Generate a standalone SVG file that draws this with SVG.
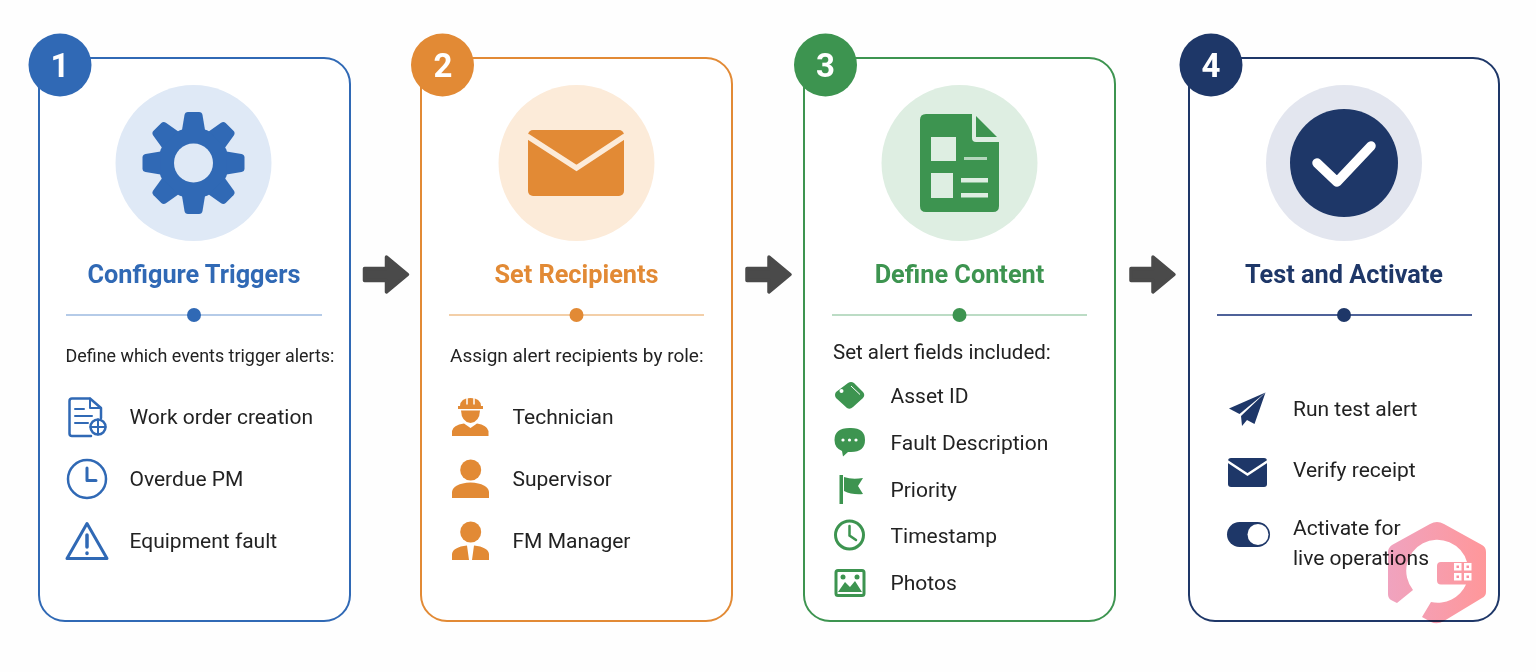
<svg xmlns="http://www.w3.org/2000/svg" width="1536" height="672" viewBox="0 0 1536 672">
<style>
text{font-family:Roboto,"Liberation Sans",sans-serif}
.card{fill:#fff;stroke-width:2}
.title{font-size:25.300px;font-weight:700;text-anchor:middle}
.intro{fill:#222}
.item{font-size:21px;fill:#222}
.num{font-size:33px;font-weight:700;fill:#fff;text-anchor:middle}
.blue{fill:#3069b5}.orange{fill:#e28a35}.green{fill:#3d9450}.navy{fill:#1e3768}
.sb{stroke:#3069b5}.so{stroke:#e28a35}.sg{stroke:#3d9450}.sn{stroke:#1e3768}
.ln{fill:none;stroke-width:3;stroke-linecap:round;stroke-linejoin:round}
.arrow{fill:#4a4a4a;stroke:#4a4a4a;stroke-width:3.500;stroke-linejoin:round}
.wm{mix-blend-mode:multiply}
</style>
<defs>
<path id="tooth" d="M-11.500 -33L-9 -48Q-8.500 -51 -5.500 -51L5.500 -51Q8.500 -51 9 -48L11.500 -33Z"/>
<path id="arr" d="M0 -6H22V-17.500L43 0L22 17.500V6H0Z"/>
<linearGradient id="wmg" x1="0" x2="1" y1="0" y2="0"><stop offset="0" stop-color="#f0a3bf"/><stop offset="1" stop-color="#ff979a"/></linearGradient>
</defs>
<rect width="1536" height="672" fill="#fefefe"/>

<g id="connectors">
<use href="#arr" class="arrow" transform="translate(364.500,274.500)"/>
<use href="#arr" class="arrow" transform="translate(747,274.500)"/>
<use href="#arr" class="arrow" transform="translate(1131,274.500)"/>
</g>

<g id="node-1">
<rect class="card sb" x="39" y="58" width="311" height="563" rx="26"/>
<circle class="blue" cx="60" cy="65" r="31.500"/>
<text class="num" x="60" y="77">1</text>
<circle cx="193.500" cy="163" r="78" fill="#dfe9f6"/>
<g class="blue" transform="translate(193.500,163)">
<circle r="35.500"/>
<use href="#tooth"/><use href="#tooth" transform="rotate(45)"/><use href="#tooth" transform="rotate(90)"/><use href="#tooth" transform="rotate(135)"/><use href="#tooth" transform="rotate(180)"/><use href="#tooth" transform="rotate(225)"/><use href="#tooth" transform="rotate(270)"/><use href="#tooth" transform="rotate(315)"/>
<circle r="19.500" fill="#dfe9f6"/>
</g>
<text class="title blue" x="194" y="283">Configure Triggers</text>
<path d="M66 315H322" stroke="#b5cbe8" stroke-width="2"/>
<circle class="blue" cx="194" cy="315" r="7"/>
<text class="intro" font-size="17.900" x="65.500" y="362">Define which events trigger alerts:</text>
<g class="ln sb">
<path stroke-width="2.500" d="M91 436H72Q69.500 436 69.500 433.500V401Q69.500 398.500 72 398.500H90L101 408V418"/>
<path stroke-width="2" d="M90 398.500V408H101M75 409H84M75 416H92M75 423H88"/>
<circle cx="98" cy="427" r="7.500" stroke-width="2.500"/>
<path stroke-width="2" d="M98 419.500V434.500M90.500 427H105.500"/>
<circle cx="87" cy="479" r="19" stroke-width="2.500"/>
<path d="M87 468V480.500H96"/>
<path d="M87 523.500L107 558.500H67Z"/>
<path stroke-width="3.500" d="M87 535V547M87 553V553.500"/>
</g>
<text class="item" x="129.500" y="424">Work order creation</text>
<text class="item" x="129.500" y="486">Overdue PM</text>
<text class="item" x="129.500" y="548">Equipment fault</text>
</g>

<g id="node-2">
<rect class="card so" x="421" y="58" width="311" height="563" rx="26"/>
<circle class="orange" cx="442.500" cy="65" r="31.500"/>
<text class="num" x="443" y="77">2</text>
<circle cx="576.500" cy="163" r="78" fill="#fcebd9"/>
<rect class="orange" x="528" y="130" width="96" height="66" rx="5"/>
<path d="M527 136L576.500 168L625 136" fill="none" stroke="#fcebd9" stroke-width="5.500"/>
<text class="title orange" x="576.500" y="283">Set Recipients</text>
<path d="M449 315H704" stroke="#f3cfa8" stroke-width="2"/>
<circle class="orange" cx="576.500" cy="315" r="7"/>
<text class="intro" font-size="19" x="450" y="362">Assign alert recipients by role:</text>
<g class="orange">
<path d="M460 406Q460.500 398 470.500 398Q480.500 398 481 406H483V409H458V406Z"/>
<path d="M461 410.500H480Q479.500 422 470.500 423Q461.500 422 461 410.500Z"/>
<path d="M452 436V431Q453 425 464 423.500L470.500 428L477 423.500Q487 425 488.500 431V436Z"/>
<circle cx="470.700" cy="470" r="10.500"/>
<path d="M452 498V492Q453 483.500 470.500 482.500Q488 483.500 489 492V498Z"/>
<circle cx="470.700" cy="532" r="10.500"/>
<path d="M452 560V554Q453 547 467 545.500L469 560H472L474 545.500Q488 547 489 554V560Z"/>
</g>
<path d="M467 398V404.500M474 398V404.500" stroke="#fff" stroke-width="1.500"/>
<text class="item" x="512.500" y="424">Technician</text>
<text class="item" x="512.500" y="486">Supervisor</text>
<text class="item" x="512.500" y="548">FM Manager</text>
</g>

<g id="node-3">
<rect class="card sg" x="804" y="58" width="311" height="563" rx="26"/>
<circle class="green" cx="825.500" cy="65" r="31.500"/>
<text class="num" x="825.500" y="77">3</text>
<circle cx="959.500" cy="163" r="78" fill="#deeee2"/>
<path class="green" d="M926 114H972V138Q972 142 976 142H999V206Q999 212 993 212H926Q920 212 920 206V120Q920 114 926 114Z"/>
<path class="green" d="M976 116L997 137H976Z"/>
<g fill="#deeee2">
<rect x="931" y="137" width="25" height="24"/>
<rect x="931" y="173" width="22" height="25"/>
<rect x="961" y="178" width="27" height="4.500"/>
<rect x="961" y="193" width="27" height="4.500"/>
<rect x="964" y="157" width="23" height="3" opacity=".75"/>
</g>
<text class="title green" x="959.500" y="283">Define Content</text>
<path d="M832 315H1087" stroke="#bcdcc5" stroke-width="2"/>
<circle class="green" cx="959.500" cy="315" r="7"/>
<text class="intro" font-size="20.500" x="833" y="359">Set alert fields included:</text>
<g class="green">
<path d="M836 392L848 383Q851 381 854 383L863 392Q865.500 395 863 398L853 407Q850 410 847 408L836 398Q834 395 836 392Z"/>
<path d="M849.500 428H851Q865 428 865 440Q865 452 851 452H848L843 456.500L842 451Q834.500 448 834.500 440Q834.500 428 849.500 428Z"/>
<rect x="839.500" y="475" width="3.500" height="29"/>
<path d="M844 477Q852 480 863 478L858 486L863 494Q852 495 844 491Z"/>
<circle cx="849.500" cy="535" r="14" fill="none" stroke="#3d9450" stroke-width="3"/>
<path d="M849.500 526V535.500L856 540" fill="none" stroke="#3d9450" stroke-width="2.500" stroke-linecap="round"/>
<rect x="836" y="570.500" width="28" height="25" rx="2" fill="none" stroke="#3d9450" stroke-width="3"/>
<circle cx="843" cy="577" r="2.500"/>
<circle cx="857" cy="577" r="2.500"/>
<path d="M838 592L845 582L850 587L855 581L862 592Z"/>
</g>
<g fill="#fff">
<circle cx="841.500" cy="391" r="2"/>
<circle cx="843" cy="440" r="1.600"/><circle cx="849.500" cy="440" r="1.600"/><circle cx="856" cy="440" r="1.600"/>
</g>
<path d="M851 386L860 394.500" stroke="#fff" stroke-width="1"/>
<text class="item" x="890.500" y="403">Asset ID</text>
<text class="item" x="890.500" y="450">Fault Description</text>
<text class="item" x="890.500" y="497">Priority</text>
<text class="item" x="890.500" y="543">Timestamp</text>
<text class="item" x="890.500" y="590">Photos</text>
</g>

<g id="node-4">
<rect class="card sn" x="1189" y="58" width="310" height="563" rx="26"/>
<circle class="navy" cx="1211" cy="65" r="31.500"/>
<text class="num" x="1211" y="77">4</text>
<circle cx="1344" cy="163" r="78" fill="#e3e6ef"/>
<circle class="navy" cx="1344" cy="163" r="54"/>
<path d="M1317 163L1337 182L1371 146" fill="none" stroke="#fff" stroke-width="9.500" stroke-linecap="round" stroke-linejoin="round"/>
<text class="title navy" x="1344" y="283">Test and Activate</text>
<path d="M1217 315H1472" stroke="#4f6299" stroke-width="2"/>
<circle class="navy" cx="1344" cy="315" r="7"/>
<g class="navy">
<path d="M1265.500 392.500L1229 408.500L1239.500 414L1265.500 392.500Z"/>
<path d="M1265.500 392.500L1241 416L1242 426L1247 420L1254.500 424Z"/>
<rect x="1228" y="458" width="39" height="29" rx="3"/>
<rect x="1227" y="522" width="43" height="25" rx="12.500"/>
</g>
<path d="M1227 461L1247.500 474.500L1268 461" fill="none" stroke="#fff" stroke-width="2.500"/>
<circle cx="1258" cy="534.500" r="10.500" fill="#fff"/>
<text class="item" x="1293" y="416">Run test alert</text>
<text class="item" x="1293" y="477">Verify receipt</text>
<text class="item" x="1293" y="535">Activate for</text>
<text class="item" x="1293" y="565">live operations</text>
</g>

<g id="watermark">
<path class="wm" fill="url(#wmg)" d="M1430 524Q1437 520 1444 524L1482 545Q1486 547 1486 552V592Q1486 596 1482 598L1444 621Q1437 625 1431 622L1422 617L1431 602A31 31 0 0 0 1466 584.500H1441Q1437 584.500 1437 580.500V566Q1437 562 1441 562H1467A31 31 0 1 0 1413 590L1397 603L1391 600Q1388 598 1388 594V552Q1388 548 1392 545Z"/>
<g fill="#fff">
<rect x="1454" y="563" width="7.500" height="7.500"/><rect x="1464" y="563" width="7.500" height="7.500"/>
<rect x="1454" y="573" width="7.500" height="7.500"/><rect x="1464" y="573" width="7.500" height="7.500"/>
</g>
<g fill="#fb8f9f">
<rect x="1456.500" y="565.500" width="2.500" height="2.500"/><rect x="1466.500" y="565.500" width="2.500" height="2.500"/>
<rect x="1456.500" y="575.500" width="2.500" height="2.500"/><rect x="1466.500" y="575.500" width="2.500" height="2.500"/>
</g>
</g>
</svg>
